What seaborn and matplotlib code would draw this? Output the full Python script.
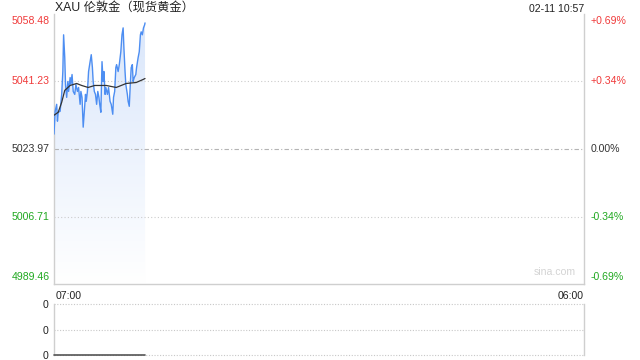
import numpy as np
import pandas as pd
import matplotlib
matplotlib.use("Agg")
import matplotlib.pyplot as plt
from matplotlib.colors import LinearSegmentedColormap
import seaborn as sns

# ---------------- data ----------------
title = "XAU 伦敦金（现货黄金）"
stamp = "02-11 10:57"
prev_close = 5023.97
y_ticks = [4989.46, 5006.71, 5023.97, 5041.23, 5058.48]
y_labels = ["4989.46", "5006.71", "5023.97", "5041.23", "5058.48"]
pct_labels = ["-0.69%", "-0.34%", "0.00%", "+0.34%", "+0.69%"]
x_labels = ["07:00", "06:00"]
session_minutes = 1380  # 07:00 -> 06:00

minutes = [0, 3, 7, 9, 11, 16, 20, 23, 25, 28, 30, 33, 36, 38, 42, 44, 47, 50,
           54, 57, 61, 64, 68, 70, 73, 76, 79, 82, 84, 87, 90, 94, 97, 100,
           102, 105, 108, 111, 114, 117, 119, 122, 125, 128, 130, 133, 135,
           139, 142, 146, 149, 153, 155, 158, 161, 163, 167, 170, 174, 177,
           180, 182, 185, 187, 191, 193, 196, 199, 201, 204, 206, 209, 213,
           215, 219, 222, 225, 227, 230, 233, 236, 237]
price = [5027.78, 5033.61, 5035.39, 5031.08, 5033.36, 5033.61, 5037.93, 5043.77,
         5053.16, 5047.32, 5040.47, 5037.17, 5041.23, 5038.69, 5042.24, 5040.47,
         5043.01, 5038.69, 5037.93, 5040.47, 5038.69, 5039.70, 5035.39, 5038.69,
         5037.17, 5029.55, 5033.61, 5037.93, 5036.15, 5038.69, 5043.77, 5046.30,
         5048.08, 5044.78, 5041.23, 5038.69, 5037.93, 5035.39, 5038.69, 5037.17,
         5035.39, 5033.36, 5046.30, 5041.23, 5043.77, 5037.93, 5039.70, 5037.93,
         5039.70, 5036.15, 5035.39, 5032.85, 5037.17, 5038.69, 5044.78, 5045.54,
         5043.77, 5045.54, 5048.84, 5053.16, 5054.93, 5049.86, 5043.77, 5040.47,
         5037.93, 5036.15, 5034.88, 5041.23, 5044.78, 5045.54, 5041.23, 5042.24,
         5043.01, 5044.78, 5047.32, 5048.84, 5053.16, 5053.92, 5053.16, 5054.93,
         5055.70, 5056.20]

avg_minutes = [0, 11, 20, 28, 42, 59, 72, 89, 106, 136, 162, 188, 214, 232, 237]
avg_price = [5032.60, 5033.36, 5035.90, 5038.95, 5040.21, 5040.72, 5040.21,
             5039.70, 5040.21, 5040.21, 5039.70, 5040.72, 5040.97, 5041.74, 5041.99]

vol_minutes = [0, 237]
volume = [0, 0]

# ---------------- style ----------------
sns.set_theme(style="white")
plt.rcParams["font.family"] = ["Liberation Sans", "Noto Sans CJK SC", "DejaVu Sans"]

RED = "#f03a3a"
GREEN = "#20a820"
GRAY = "#333333"
FRAME = "#cfcfcf"
LINE = "#4d8ef2"

fig = plt.figure(figsize=(6.4, 3.6), dpi=100)
fig.patch.set_facecolor("white")
ax = fig.add_axes([54 / 640, 1 - 284 / 360, 530 / 640, 270 / 360])
axv = fig.add_axes([54 / 640, 1 - 355 / 360, 530 / 640, 51 / 360])

df = pd.DataFrame({"minute": minutes, "price": price})
dfa = pd.DataFrame({"minute": avg_minutes, "avg": avg_price})
dfv = pd.DataFrame({"minute": vol_minutes, "vol": volume})

ymin, ymax = y_ticks[0], y_ticks[-1]
ax.set_xlim(0, session_minutes)
ax.set_ylim(ymin, ymax)

# gradient fill under the price line
poly = ax.fill_between(df["minute"], df["price"], ymin, color="none", lw=0)
cmap = LinearSegmentedColormap.from_list("g", ["#ffffff", "#d9e6fb"])
grad = np.linspace(0, 1, 256).reshape(-1, 1)
im = ax.imshow(grad, cmap=cmap, origin="lower", aspect="auto",
               extent=[0, session_minutes, ymin, ymax], zorder=1)
path = poly.get_paths()[0]
im.set_clip_path(path, transform=ax.transData)
ax.set_xlim(0, session_minutes)
ax.set_ylim(ymin, ymax)

sns.lineplot(data=df, x="minute", y="price", ax=ax, color=LINE, lw=1.0, zorder=3)
sns.lineplot(data=dfa, x="minute", y="avg", ax=ax, color=GRAY, lw=0.9, zorder=4)

# grid lines
for v in [y_ticks[1], y_ticks[3]]:
    ax.axhline(v, color="#cccccc", lw=0.8, ls=(0, (1, 2)), zorder=2)
ax.axhline(prev_close, color="#b4b4b4", lw=0.8, ls=(0, (4, 2, 1, 2)), zorder=2)

ax.set_xticks([])
ax.set_yticks([])
ax.set_xlabel("")
ax.set_ylabel("")
for s in ["left", "right", "bottom"]:
    ax.spines[s].set_color(FRAME)
    ax.spines[s].set_linewidth(1)
ax.spines["top"].set_visible(False)

colors = [GREEN, GREEN, GRAY, RED, RED]
vas = ["bottom", "center", "center", "center", "top"]
for v, lab, pl, c, va in zip(y_ticks, y_labels, pct_labels, colors, vas):
    if va == "top":
        v2 = ymax - (ymax - ymin) * 0.008
    elif va == "bottom":
        v2 = ymin + (ymax - ymin) * 0.006
    else:
        v2 = v
    ax.text(-0.008, v2, lab, transform=ax.get_yaxis_transform(), ha="right",
            va=va, color=c, fontsize=7.6)
    ax.text(1.012, v2, pl, transform=ax.get_yaxis_transform(), ha="left",
            va=va, color=c, fontsize=7.6)

fig.text(55 / 640, 1 - 12 / 360, title, ha="left", va="baseline",
         fontsize=8.8, color="#222222")
fig.text(584 / 640, 1 - 11.5 / 360, stamp, ha="right", va="baseline",
         fontsize=7.6, color="#222222")
ax.text(0.985, 0.025, "sina.com", transform=ax.transAxes, ha="right", va="bottom",
        fontsize=7.6, color="#d4d4d4")
ax.text(0.004, -0.025, x_labels[0], transform=ax.transAxes, ha="left", va="top",
        fontsize=7.6, color="#222222")
ax.text(1.0, -0.025, x_labels[1], transform=ax.transAxes, ha="right", va="top",
        fontsize=7.6, color="#222222")

# ---------------- volume panel ----------------
axv.set_xlim(0, session_minutes)
axv.set_ylim(0, 1)
for v in [0, 0.5, 1]:
    axv.axhline(v, color="#c8c8c8", lw=0.8, ls=(0, (1, 1.5)), zorder=1, clip_on=False)
sns.lineplot(data=dfv, x="minute", y="vol", ax=axv, color="#555555", lw=1.2,
             zorder=3, clip_on=False)
axv.set_xticks([])
axv.set_yticks([0, 0.5, 1])
axv.set_yticklabels(["0", "0", "0"], fontsize=7.6, color="#222222")
axv.tick_params(axis="y", length=0, pad=4)
axv.set_xlabel("")
axv.set_ylabel("")
for s in ["top", "bottom"]:
    axv.spines[s].set_visible(False)
for s in ["left", "right"]:
    axv.spines[s].set_color(FRAME)
    axv.spines[s].set_linewidth(1)

fig.savefig("out.png", dpi=100)
